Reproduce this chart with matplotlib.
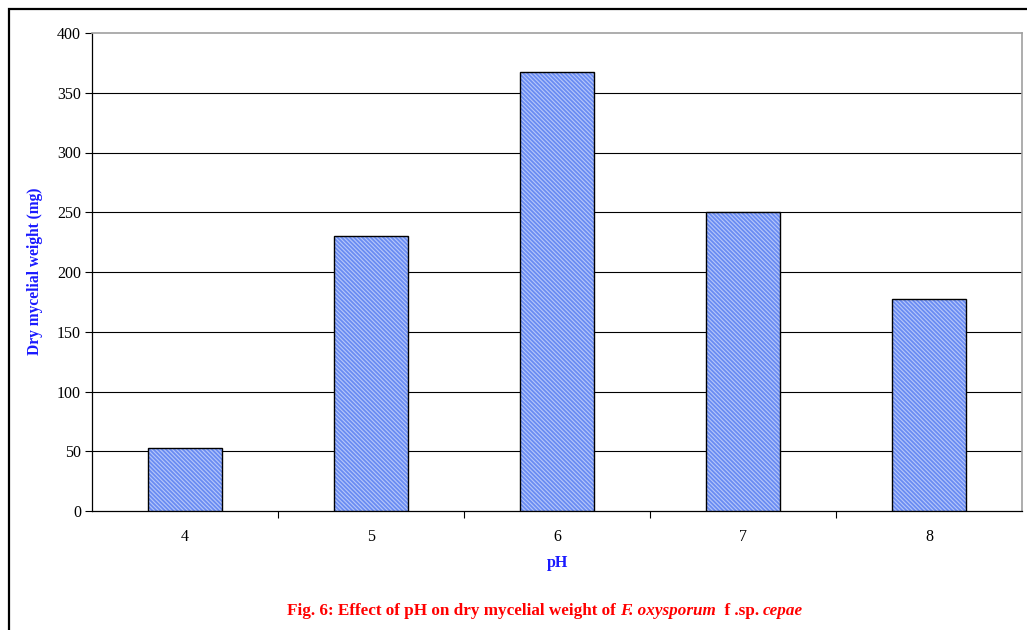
import matplotlib
matplotlib.use("Agg")
import matplotlib.pyplot as plt
from matplotlib.patches import Rectangle
from matplotlib.offsetbox import TextArea, HPacker, AnnotationBbox

plt.rcParams["font.family"] = ["Liberation Serif", "DejaVu Serif"]
plt.rcParams["hatch.linewidth"] = 1.3

ph_levels = ["4", "5", "6", "7", "8"]
dry_weight = [53, 230, 367, 250, 177]
y_ticks = [0, 50, 100, 150, 200, 250, 300, 350, 400]

BLUE = "#1a1aff"
RED = "#ff0000"

fig = plt.figure(figsize=(10.27, 6.30), dpi=100)
ax = fig.add_axes([92 / 1027, 1 - 511 / 630, 930 / 1027, 478 / 630])

pos = list(range(len(ph_levels)))
# striped fill first, then the black outline on top
ax.bar(pos, dry_weight, width=0.4, color="#b6c7fa", edgecolor="#6a8cf2",
       linewidth=0, hatch="\\" * 8, zorder=3)
ax.bar(pos, dry_weight, width=0.4, fill=False, edgecolor="black",
       linewidth=1.0, zorder=4)

ax.set_xlim(-0.5, len(ph_levels) - 0.5)
ax.set_ylim(0, 400)
ax.set_yticks(y_ticks)
ax.set_yticklabels([str(v) for v in y_ticks], fontsize=11.5)
for v in y_ticks[1:-1]:
    ax.axhline(v, color="black", lw=0.8, zorder=1)

# category labels centred, tick marks on the category boundaries
ax.set_xticks(pos)
ax.set_xticklabels(ph_levels, fontsize=11.5)
ax.tick_params(axis="x", length=0, pad=13)
ax.set_xticks([p + 0.5 for p in pos[:-1]], minor=True)
ax.tick_params(axis="x", which="minor", length=5, width=0.8, direction="out")
ax.tick_params(axis="y", length=5, width=0.8, direction="out", pad=3)

for side in ("top", "right"):
    ax.spines[side].set_color("#a0a0a0")
    ax.spines[side].set_linewidth(1.2)
for side in ("left", "bottom"):
    ax.spines[side].set_color("black")
    ax.spines[side].set_linewidth(0.9)

fig.text(35 / 1027, 1 - 271 / 630, "Dry mycelial weight (mg)", rotation=90,
         ha="center", va="center", fontsize=11.2, fontweight="bold", color=BLUE)
fig.text(557 / 1027, 1 - 563 / 630, "pH", ha="center", va="center",
         fontsize=11.5, fontweight="bold", color=BLUE)

# caption with italic species name
parts = [
    ("Fig. 6: Effect of pH on dry mycelial weight of ", "normal"),
    ("F. oxysporum", "italic"),
    ("  f .sp. ", "normal"),
    ("cepae", "italic"),
]
boxes = [TextArea(t, textprops=dict(color=RED, fontsize=12.3, fontweight="bold",
                                    fontstyle=s)) for t, s in parts]
caption = HPacker(children=boxes, align="baseline", pad=0, sep=0)
fig.add_artist(AnnotationBbox(caption, (545 / 1027, 1 - 611 / 630),
                              xycoords="figure fraction", frameon=False,
                              box_alignment=(0.5, 0.5)))

# outer frame running off the right and bottom edges
fig.add_artist(Rectangle((8.5 / 1027, -0.1), 1.2, 1.1 - 9 / 630,
                         transform=fig.transFigure, fill=False,
                         edgecolor="black", linewidth=1.6))

fig.savefig("out.png", dpi=100)
